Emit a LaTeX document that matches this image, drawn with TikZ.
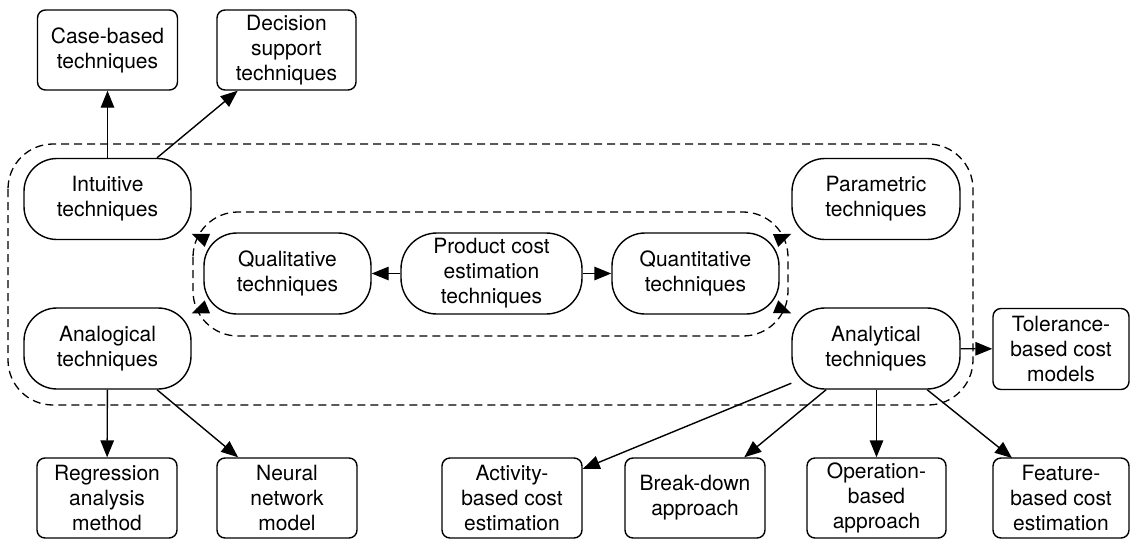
\documentclass[tikz,border=0pt]{standalone}
\usepackage{fontspec}
\setmainfont{TeX Gyre Heros}
\usetikzlibrary{arrows.meta}
\begin{document}
\begin{tikzpicture}[x=1pt,y=-1pt,
  box/.style={draw, line width=1.4pt, rounded corners=8pt, align=center,
    inner sep=0pt, minimum width=140pt, minimum height=80pt,
    font=\fontsize{21}{25}\selectfont},
  tech/.style={box, rounded corners=33pt, minimum width=167pt, minimum height=81pt},
  arr/.style={line width=1.4pt, -{Triangle[length=17pt,width=13.5pt]}},
  group/.style={line width=1.3pt, dash pattern=on 8pt off 5pt, rounded corners=45pt}]
\useasboundingbox (0,0) rectangle (1130,539);

% dashed groupings
\draw[group] (8,144) rectangle (973,405);
\draw[group] (193,212) rectangle (788,336);

% top row
\node[box] (case) at (107.5,50) {Case-based\\techniques};
\node[box, minimum width=139pt] (dec) at (286.5,50) {Decision\\support\\techniques};

% technique families
\node[tech] (int) at (107.5,199) {Intuitive\\techniques};
\node[tech] (anal) at (107.5,348.5) {Analogical\\techniques};
\node[tech] (qual) at (287.5,273.5) {Qualitative\\techniques};
\node[tech, minimum width=181pt, rounded corners=36pt] (prod) at (491.5,273.5) {Product cost\\estimation\\techniques};
\node[tech] (quant) at (695.5,273.5) {Quantitative\\techniques};
\node[tech, minimum width=168pt] (param) at (876,199) {Parametric\\techniques};
\node[tech, minimum width=168pt] (analy) at (876,348.5) {Analytical\\techniques};
\node[box, minimum width=136pt, minimum height=81pt] (tol) at (1061,349) {Tolerance-\\based cost\\models};

% bottom row
\node[box] (reg) at (107,498) {Regression\\analysis\\method};
\node[box] (neur) at (287,498) {Neural\\network\\model};
\node[box] (act) at (512,498) {Activity-\\based cost\\estimation};
\node[box] (brk) at (695,498) {Break-down\\approach};
\node[box, minimum width=139pt] (oper) at (876.5,498) {Operation-\\based\\approach};
\node[box, minimum width=136pt] (feat) at (1061,498) {Feature-\\based cost\\estimation};
\coordinate (featin) at (1012,458);

% connectors
\draw[arr] (int) -- (case);
\draw[arr] (int) -- (dec);
\draw[arr] (qual) -- (int);
\draw[arr] (qual) -- (anal);
\draw[arr] (prod) -- (qual);
\draw[arr] (prod) -- (quant);
\draw[arr] (quant) -- (param);
\draw[arr] (quant) -- (analy);
\draw[arr] (analy) -- (tol);
\draw[arr] (analy) -- (act);
\draw[arr] (analy) -- (brk);
\draw[arr] (analy.south -| oper) -- (oper);
\draw[arr] (analy) -- (featin);
\draw[arr] (anal) -- (reg);
\draw[arr] (anal) -- (neur);
\end{tikzpicture}
\end{document}
